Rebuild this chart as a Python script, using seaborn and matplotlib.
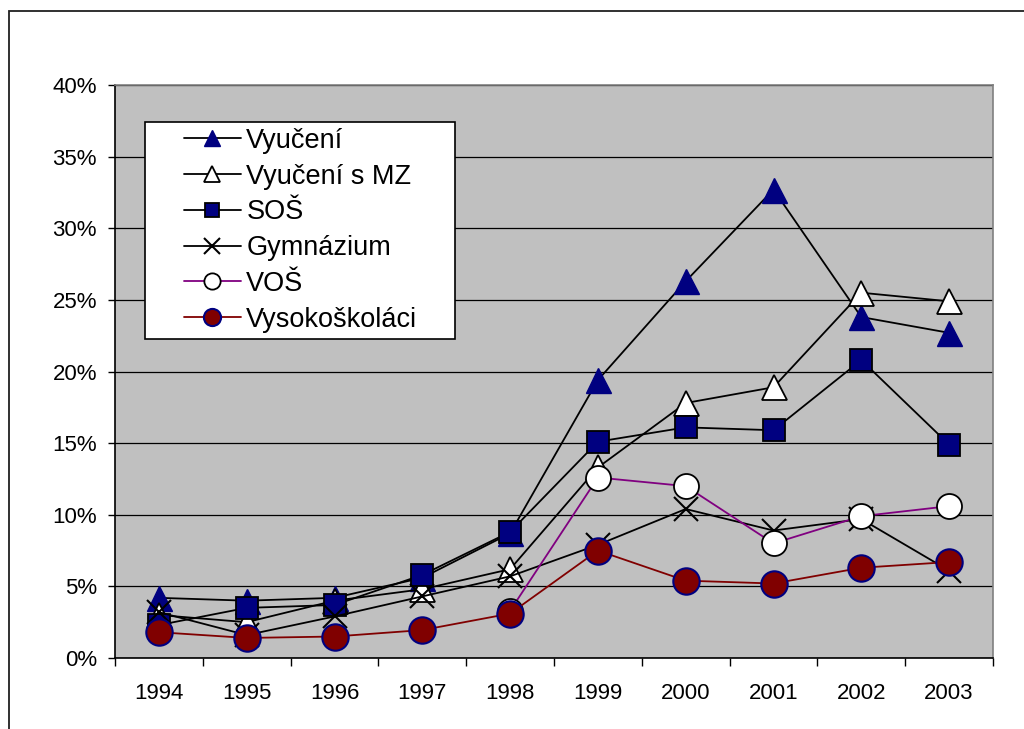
import numpy as np
import seaborn as sns
import matplotlib.pyplot as plt
from matplotlib.patches import Rectangle
from matplotlib.ticker import PercentFormatter

years = ['1994', '1995', '1996', '1997', '1998', '1999', '2000', '2001', '2002', '2003']
vyuceni = [4.2, 4.0, 4.2, 5.6, 8.7, 19.4, 26.3, 32.7, 23.8, 22.7]
vyuceni_mz = [3.0, 2.5, 4.0, 4.8, 6.2, 13.3, 17.8, 18.9, 25.5, 24.9]
sos = [2.3, 3.5, 3.7, 5.8, 8.8, 15.1, 16.1, 15.9, 20.8, 14.9]
gymnazium = [3.2, 1.6, 2.9, 4.3, 5.7, 7.9, 10.4, 8.9, 9.7, 6.1]
vos = [np.nan, np.nan, np.nan, np.nan, 3.3, 12.6, 12.0, 8.0, 9.9, 10.6]
vysokoskolaci = [1.8, 1.4, 1.5, 1.95, 3.1, 7.5, 5.4, 5.2, 6.3, 6.7]

sns.set_style('white')
plt.rcParams['font.family'] = ['Liberation Sans', 'DejaVu Sans']
plt.rcParams['text.color'] = 'black'
plt.rcParams['xtick.color'] = 'black'
plt.rcParams['ytick.color'] = 'black'

fig = plt.figure(figsize=(10.24, 7.29), dpi=100)
ax = fig.add_axes([115/1024, 1 - 658/729, 878/1024, 573/729])
ax.set_facecolor('#C0C0C0')

xpos = np.arange(len(years))
navy = '#000080'
series = [
    ('Vyučení', vyuceni, dict(color='black', marker='^', markersize=18,
                              markerfacecolor=navy, markeredgecolor=navy, markeredgewidth=1)),
    ('Vyučení s MZ', vyuceni_mz, dict(color='black', marker='^', markersize=18,
                                      markerfacecolor='white', markeredgecolor='black', markeredgewidth=1.3)),
    ('SOŠ', sos, dict(color='black', marker='s', markersize=16,
                      markerfacecolor=navy, markeredgecolor='black', markeredgewidth=1.3)),
    ('Gymnázium', gymnazium, dict(color='black', marker='x', markersize=17,
                                  markeredgecolor='black', markeredgewidth=1.5)),
    ('VOŠ', vos, dict(color='#800080', marker='o', markersize=18,
                      markerfacecolor='white', markeredgecolor='black', markeredgewidth=1.3)),
    ('Vysokoškoláci', vysokoskolaci, dict(color='#800000', marker='o', markersize=19,
                                          markerfacecolor='#800000', markeredgecolor=navy, markeredgewidth=1.5)),
]

for name, vals, style in series:
    sns.lineplot(x=xpos, y=vals, ax=ax, label=name, linewidth=1.3, **style)

# axes / ticks
ax.set_xlim(-0.5, 9.5)
ax.set_ylim(0, 40)
ax.set_yticks(np.arange(0, 41, 5))
ax.yaxis.set_major_formatter(PercentFormatter(xmax=100, decimals=0))
ax.set_xticks(np.arange(-0.5, 10, 1))
ax.set_xticklabels([])
ax.set_xticks(xpos, minor=True)
ax.set_xticklabels(years, minor=True)
ax.tick_params(axis='x', which='major', direction='out', length=6, width=1, color='black', bottom=True)
ax.tick_params(axis='x', which='minor', length=0, pad=18, labelsize=16, bottom=True)
ax.tick_params(axis='y', direction='out', length=5, width=1, color='black', pad=8, labelsize=16, left=True)
ax.set_xlabel('')
ax.set_ylabel('')

ax.yaxis.grid(True, color='black', linewidth=0.9)
ax.xaxis.grid(False)
ax.set_axisbelow(True)
for s in ['left', 'bottom']:
    ax.spines[s].set_color('black')
    ax.spines[s].set_linewidth(1.2)
for s in ['top', 'right']:
    ax.spines[s].set_color('#808080')
    ax.spines[s].set_linewidth(1.2)

# legend with an Excel-like box
ax.add_patch(Rectangle((30/878, 319/573), 310/878, 217/573, transform=ax.transAxes,
                       facecolor='white', edgecolor='black', linewidth=1.2, zorder=4))
leg = ax.legend(loc='upper left', bbox_to_anchor=(69/878, 0.925), frameon=False,
                fontsize=19.5, markerscale=0.65, handlelength=2.1, handletextpad=0.2,
                labelspacing=0.36, borderpad=0, borderaxespad=0)
leg.set_zorder(5)

# outer chart border
fig.add_artist(Rectangle((8.5/1024, -0.1), 2, 1.1 - 11.5/729, transform=fig.transFigure,
                         fill=False, edgecolor='#202020', linewidth=1.3))

fig.savefig('out.png', dpi=100)
